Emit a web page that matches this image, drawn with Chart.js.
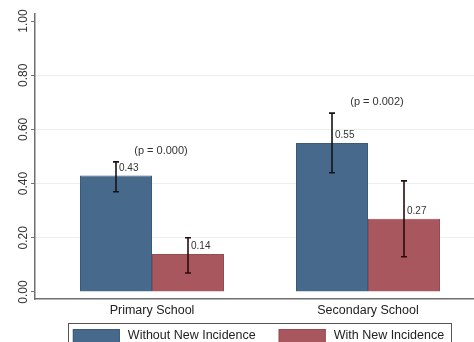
<!DOCTYPE html>
<html>
<head>
<meta charset="utf-8">
<script src="https://cdn.jsdelivr.net/npm/chart.js@4"></script>
<style>
  html, body { margin: 0; padding: 0; background: #ffffff; overflow: hidden; }
  #wrap { width: 474px; height: 342px; }
</style>
</head>
<body>
<div id="wrap"><canvas id="c" width="474" height="342"></canvas></div>
<script>
// School level groups and the share in each incidence group
const categories = ['Primary School', 'Secondary School'];
const withoutNew = [0.43, 0.55];
const withNew = [0.14, 0.27];
// 95% confidence limits
const withoutNewLow = [0.37, 0.44];
const withoutNewHigh = [0.48, 0.66];
const withNewLow = [0.07, 0.13];
const withNewHigh = [0.20, 0.41];
// Test results per school level
const pLabels = ['(p = 0.000)', '(p = 0.002)'];
const yTicks = [0, 0.2, 0.4, 0.6, 0.8, 1.0];
const seriesNames = ['Without New Incidence', 'With New Incidence'];

const FONT = '"Liberation Sans", Arial, sans-serif';

function points(values) {
  return values.map((v, i) => ({ x: i + 1, y: v }));
}

// Error bars, value labels and test results drawn on top of the bars
const annotations = {
  id: 'annotations',
  afterDatasetsDraw(chart) {
    const ctx = chart.ctx;
    const yScale = chart.scales.y;
    const lows = [withoutNewLow, withNewLow];
    const highs = [withoutNewHigh, withNewHigh];
    const values = [withoutNew, withNew];
    const whiskerColors = ['#141414', '#2a0c0f'];
    ctx.save();
    chart.data.datasets.forEach((ds, d) => {
      const meta = chart.getDatasetMeta(d);
      meta.data.forEach((bar, i) => {
        const x = bar.x;
        const yLo = yScale.getPixelForValue(lows[d][i]);
        const yHi = yScale.getPixelForValue(highs[d][i]);
        ctx.strokeStyle = whiskerColors[d];
        ctx.lineWidth = 1.6;
        ctx.beginPath();
        ctx.moveTo(x, yLo); ctx.lineTo(x, yHi);
        ctx.moveTo(x - 3, yLo); ctx.lineTo(x + 3, yLo);
        ctx.moveTo(x - 3, yHi); ctx.lineTo(x + 3, yHi);
        ctx.stroke();
        ctx.fillStyle = '#333333';
        ctx.font = '10px ' + FONT;
        ctx.textAlign = 'left';
        ctx.textBaseline = 'middle';
        ctx.fillText(values[d][i].toFixed(2), x + 3, yScale.getPixelForValue(values[d][i]) - 7.5);
      });
    });
    const m0 = chart.getDatasetMeta(0), m1 = chart.getDatasetMeta(1);
    categories.forEach((c, i) => {
      const cx = (m0.data[i].x + m1.data[i].x) / 2 + 9;
      const top = Math.min(yScale.getPixelForValue(withoutNewHigh[i]), yScale.getPixelForValue(withNewHigh[i]));
      ctx.fillStyle = '#333333';
      ctx.font = '11px ' + FONT;
      ctx.textAlign = 'center';
      ctx.textBaseline = 'middle';
      ctx.fillText(pLabels[i], cx, top - 11);
    });
    ctx.restore();
  }
};

// Framed legend below the category labels
const framedLegend = {
  id: 'framedLegend',
  afterDraw(chart) {
    const ctx = chart.ctx;
    const area = chart.chartArea;
    const swatchW = 47, swatchH = 14, textGap = 8, itemGap = 23;
    ctx.save();
    ctx.font = '12.5px ' + FONT;
    const items = chart.data.datasets.map(ds => ({
      label: ds.label,
      fill: ds.backgroundColor,
      stroke: ds.borderColor,
      width: swatchW + textGap + ctx.measureText(ds.label).width
    }));
    const total = items.reduce((s, it) => s + it.width, 0) + itemGap * (items.length - 1);
    let x = (area.left + area.right) / 2 - total / 2 + 4;
    const rowTop = area.bottom + 30;
    const frameLeft = x - 5;
    const frameRight = x + total + 7;
    ctx.strokeStyle = '#555555';
    ctx.lineWidth = 1;
    ctx.strokeRect(Math.round(frameLeft) + 0.5, Math.round(rowTop - 6) + 0.5, Math.round(frameRight - frameLeft), 40);
    items.forEach(it => {
      ctx.fillStyle = it.fill;
      ctx.fillRect(x, rowTop, swatchW, swatchH);
      ctx.strokeStyle = it.stroke;
      ctx.strokeRect(x + 0.5, rowTop + 0.5, swatchW - 1, swatchH - 1);
      ctx.fillStyle = '#222222';
      ctx.textAlign = 'left';
      ctx.textBaseline = 'middle';
      ctx.fillText(it.label, x + swatchW + textGap, rowTop + swatchH / 2);
      x += it.width + itemGap;
    });
    ctx.restore();
  }
};

new Chart(document.getElementById('c'), {
  type: 'bar',
  data: {
    datasets: [
      {
        label: seriesNames[0],
        data: points(withoutNew),
        backgroundColor: '#46698c',
        borderColor: '#3a5b7b',
        borderWidth: 1
      },
      {
        label: seriesNames[1],
        data: points(withNew),
        backgroundColor: '#a8575e',
        borderColor: '#984a51',
        borderWidth: 1
      }
    ]
  },
  options: {
    responsive: false,
    animation: false,
    layout: { padding: { top: 14, right: 0, left: 0, bottom: 23 } },
    datasets: { bar: { categoryPercentage: 0.6667, barPercentage: 1.0 } },
    plugins: {
      tooltip: { enabled: false },
      legend: { display: false }
    },
    scales: {
      x: {
        type: 'linear',
        offset: false,
        min: 0.4583,
        max: 2.4907,
        grid: { display: false, drawTicks: false, offset: false },
        border: { display: true, color: '#707070', width: 1.5 },
        afterBuildTicks(scale) {
          scale.ticks = categories.map((c, i) => ({ value: i + 1 }));
        },
        afterFit(scale) { scale.height = 20; },
        ticks: {
          autoSkip: false,
          maxRotation: 0,
          padding: 4,
          color: '#222222',
          font: { family: FONT, size: 12.5 },
          callback: (v) => categories[Math.round(v) - 1] || ''
        }
      },
      y: {
        type: 'linear',
        min: -0.026,
        max: 1.026,
        afterBuildTicks(scale) {
          scale.ticks = yTicks.map(v => ({ value: v }));
        },
        afterFit(scale) { scale.width = 35; },
        grid: {
          color: (ctx) => (ctx.tick && (ctx.tick.value === 0 || ctx.tick.value === 1)) ? 'rgba(0,0,0,0)' : '#eceff2',
          tickColor: '#707070',
          tickLength: 4,
          lineWidth: 1
        },
        border: { display: true, color: '#707070', width: 1.5 },
        ticks: {
          minRotation: 90,
          maxRotation: 90,
          crossAlign: 'center',
          padding: -4,
          color: '#333333',
          font: { family: FONT, size: 12 },
          callback: (v) => Number(v).toFixed(2)
        }
      }
    }
  },
  plugins: [annotations, framedLegend]
});
</script>
</body>
</html>
